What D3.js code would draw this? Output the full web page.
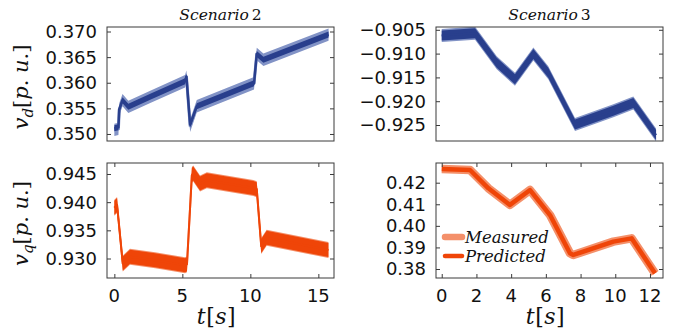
<!DOCTYPE html>
<html>
<head>
<meta charset="utf-8">
<script src="https://cdn.jsdelivr.net/npm/d3@7"></script>
<style>
  body { margin: 0; background: #fff; }
  svg { display: block; }
  .tick-label { font-family: "DejaVu Sans", sans-serif; font-size: 18px; fill: #111; }
  .math { font-family: "DejaVu Serif", serif; fill: #111; }
</style>
</head>
<body>
<svg id="chart" width="683" height="335"></svg>
<script>
// ---- Scenario 2 (left column) ----
const s2Time = [0, 0.3, 0.36, 0.6, 1.03, 2.6, 5.2, 5.3, 5.57, 6.06, 10.27, 10.47, 10.96, 15.75];
const s2VdMeasured  = [0.3508, 0.3510, 0.3548, 0.3566, 0.3553, 0.3572, 0.3603, 0.3612, 0.3516, 0.3554, 0.3599, 0.3656, 0.3645, 0.3694];
const s2VdPredicted = [0.3511, 0.3513, 0.3548, 0.3566, 0.3553, 0.3572, 0.3603, 0.3612, 0.3518, 0.3554, 0.3599, 0.3656, 0.3645, 0.3694];

const s2QTime = [0, 0.2, 0.62, 1.15, 3.0, 5.2, 5.34, 5.7, 5.8, 6.3, 6.8, 10.22, 10.47, 10.8, 11.2, 15.74];
const s2VqMeasured  = [0.9390, 0.9395, 0.9291, 0.9303, 0.9297, 0.9288, 0.9290, 0.9448, 0.9451, 0.9433, 0.9439, 0.9425, 0.9423, 0.9322, 0.9337, 0.9315];
const s2VqPredicted = [0.9390, 0.9395, 0.9291, 0.9303, 0.9297, 0.9288, 0.9290, 0.9448, 0.9451, 0.9433, 0.9439, 0.9425, 0.9423, 0.9322, 0.9337, 0.9315];

// ---- Scenario 3 (right column) ----
const s3Time = [0, 1.92, 3.17, 4.22, 5.28, 6.14, 7.68, 9.89, 11.04, 12.35];
const s3VdMeasured  = [-0.9062, -0.9057, -0.9119, -0.9154, -0.9101, -0.9140, -0.9249, -0.9220, -0.9204, -0.9271];
const s3VdPredicted = [-0.9062, -0.9057, -0.9119, -0.9154, -0.9101, -0.9140, -0.9249, -0.9220, -0.9204, -0.9271];

const s3QTime = [0, 1.63, 2.69, 3.93, 5.09, 6.24, 7.39, 7.58, 9.89, 10.94, 12.29];
const s3VqMeasured  = [0.4263, 0.4259, 0.4174, 0.4097, 0.4166, 0.4050, 0.3873, 0.3865, 0.3927, 0.3942, 0.3780];
const s3VqPredicted = [0.4263, 0.4259, 0.4174, 0.4097, 0.4166, 0.4050, 0.3873, 0.3865, 0.3927, 0.3942, 0.3780];

// ---- tick labels ----
const s2VdTicks = [0.350, 0.355, 0.360, 0.365, 0.370];
const s3VdTicks = [-0.925, -0.920, -0.915, -0.910, -0.905];
const s2VqTicks = [0.930, 0.935, 0.940, 0.945];
const s3VqTicks = [0.38, 0.39, 0.40, 0.41, 0.42];
const s2TimeTicks = [0, 5, 10, 15];
const s3TimeTicks = [0, 2, 4, 6, 8, 10, 12];

const seriesNames = ["Measured", "Predicted"];

const blueLight = "#8293c6", blueDark = "#293f8d";
const orangeLight = "#f4906a", orangeDark = "#ef4508";

const svg = d3.select("#chart");
const colX = [[107, 334], [436, 663]];
const rowY = [[27, 141], [163, 278]];

const panels = [
  { col: 0, row: 0, xDom: [-0.54, 16.15], yDom: [0.34863, 0.37088], yTicks: s2VdTicks, fmt: ".3f",
    t: s2Time, m: s2VdMeasured, p: s2VdPredicted, light: blueLight, dark: blueDark,
    band: { m: [6.2, 3], p: [3, 2.5] }, title: "2", ylab: "d" },
  { col: 1, row: 0, xDom: [-0.33, 12.75], yDom: [-0.92836, -0.90441], yTicks: s3VdTicks, fmt: ".3f",
    t: s3Time, m: s3VdMeasured, p: s3VdPredicted, light: blueLight, dark: blueDark,
    band: { m: [6.5, 2], p: [5, 2] }, title: "3" },
  { col: 0, row: 1, xDom: [-0.54, 16.15], yDom: [0.92654, 0.94695], yTicks: s2VqTicks, fmt: ".3f",
    t: s2QTime, m: s2VqMeasured, p: s2VqPredicted, light: orangeLight, dark: orangeDark,
    band: { m: [8, 2], p: [7, 2] }, xTicks: s2TimeTicks, ylab: "q" },
  { col: 1, row: 1, xDom: [-0.33, 12.75], yDom: [0.37583, 0.42913], yTicks: s3VqTicks, fmt: ".2f",
    t: s3QTime, m: s3VqMeasured, p: s3VqPredicted, light: orangeLight, dark: orangeDark,
    band: { m: [0, 8.5], p: [0, 4.5] }, xTicks: s3TimeTicks, legend: true }
];

const frameColor = "#3a3a3a";
const tickLen = 4;

panels.forEach((cfg, i) => {
  const [x0, x1] = colX[cfg.col];
  const [y0, y1] = rowY[cfg.row];
  const x = d3.scaleLinear().domain(cfg.xDom).range([x0, x1]);
  const y = d3.scaleLinear().domain(cfg.yDom).range([y1, y0]);

  const clipId = "clip" + i;
  svg.append("clipPath").attr("id", clipId)
    .append("rect").attr("x", x0).attr("y", y0).attr("width", x1 - x0).attr("height", y1 - y0);

  const g = svg.append("g").attr("clip-path", `url(#${clipId})`);

  // each trace: a band of fixed vertical half-width plus a stroked centre line
  const drawSeries = (vals, color, [hw, sw]) => {
    const pts = cfg.t.map((t, k) => [t, vals[k]]);
    if (hw > 0) {
      g.append("path")
        .attr("d", d3.area().x(d => x(d[0])).y0(d => y(d[1]) + hw).y1(d => y(d[1]) - hw)(pts))
        .attr("fill", color);
    }
    g.append("path")
      .attr("d", d3.line().x(d => x(d[0])).y(d => y(d[1]))(pts))
      .attr("fill", "none").attr("stroke", color).attr("stroke-width", sw)
      .attr("stroke-linejoin", "round");
  };
  drawSeries(cfg.m, cfg.light, cfg.band.m);
  drawSeries(cfg.p, cfg.dark, cfg.band.p);

  // y axes: labelled on the left, inward ticks on both sides
  const yl = svg.append("g").attr("transform", `translate(${x0},0)`)
    .call(d3.axisRight(y).tickValues(cfg.yTicks).tickSize(tickLen).tickFormat(""));
  const yr = svg.append("g").attr("transform", `translate(${x1},0)`)
    .call(d3.axisLeft(y).tickValues(cfg.yTicks).tickSize(tickLen).tickFormat(""));
  [yl, yr].forEach(a => { a.select(".domain").remove(); a.selectAll("line").attr("stroke", frameColor); });

  const fmt = d3.format(cfg.fmt);
  svg.append("g").selectAll("text").data(cfg.yTicks).join("text")
    .attr("class", "tick-label")
    .attr("x", x0 - 10).attr("y", d => y(d)).attr("dy", "0.36em")
    .attr("text-anchor", "end").text(d => fmt(d));

  if (cfg.xTicks) {
    const xb = svg.append("g").attr("transform", `translate(0,${y1})`)
      .call(d3.axisTop(x).tickValues(cfg.xTicks).tickSize(tickLen).tickFormat(""));
    const xt = svg.append("g").attr("transform", `translate(0,${y0})`)
      .call(d3.axisBottom(x).tickValues(cfg.xTicks).tickSize(tickLen).tickFormat(""));
    [xb, xt].forEach(a => { a.select(".domain").remove(); a.selectAll("line").attr("stroke", frameColor); });
    svg.append("g").selectAll("text").data(cfg.xTicks).join("text")
      .attr("class", "tick-label")
      .attr("x", d => x(d)).attr("y", y1 + 24)
      .attr("text-anchor", "middle").text(d => d);

    // t[s]
    const xl = svg.append("text").attr("class", "math")
      .attr("x", (x0 + x1) / 2 - 4).attr("y", y1 + 46)
      .attr("text-anchor", "middle").attr("font-size", 22).attr("letter-spacing", 0.5);
    xl.append("tspan").attr("font-style", "italic").text("t");
    xl.append("tspan").text("[");
    xl.append("tspan").attr("font-style", "italic").text("s");
    xl.append("tspan").text("]");
  }

  // frame
  svg.append("rect").attr("x", x0).attr("y", y0)
    .attr("width", x1 - x0).attr("height", y1 - y0)
    .attr("fill", "none").attr("stroke", frameColor).attr("stroke-width", 1);

  if (cfg.title) {
    const tt = svg.append("text").attr("class", "math")
      .attr("x", (x0 + x1) / 2).attr("y", y0 - 7)
      .attr("text-anchor", "middle").attr("font-size", 15.5);
    tt.append("tspan").attr("font-style", "italic").text("Scenario");
    tt.append("tspan").attr("dx", 3).text(cfg.title);
  }

  if (cfg.ylab) {
    const cy = (y0 + y1) / 2 + 3;
    const yt = svg.append("text").attr("class", "math")
      .attr("transform", `translate(28,${cy}) rotate(-90)`)
      .attr("text-anchor", "middle").attr("font-size", 21);
    yt.append("tspan").attr("font-style", "italic").text("v");
    yt.append("tspan").attr("font-style", "italic").attr("font-size", 15).attr("dy", 5).text(cfg.ylab);
    yt.append("tspan").attr("dy", -5).text("[");
    yt.append("tspan").attr("font-style", "italic").text("p");
    yt.append("tspan").text(". ");
    yt.append("tspan").attr("font-style", "italic").text("u");
    yt.append("tspan").text(".]");
  }

  if (cfg.legend) {
    const lg = svg.append("g");
    const items = [
      { name: seriesNames[0], color: cfg.light, w: 6.5 },
      { name: seriesNames[1], color: cfg.dark, w: 4.5 }
    ];
    items.forEach((it, k) => {
      const ly = 237 + k * 19;
      lg.append("line").attr("x1", x0 + 9).attr("x2", x0 + 26).attr("y1", ly).attr("y2", ly)
        .attr("stroke", it.color).attr("stroke-width", it.w).attr("stroke-linecap", "round");
      lg.append("text").attr("class", "math")
        .attr("x", x0 + 29).attr("y", ly + 6)
        .attr("font-size", 16.5).attr("font-style", "italic")
        .text(it.name);
    });
  }
});
</script>
</body>
</html>
